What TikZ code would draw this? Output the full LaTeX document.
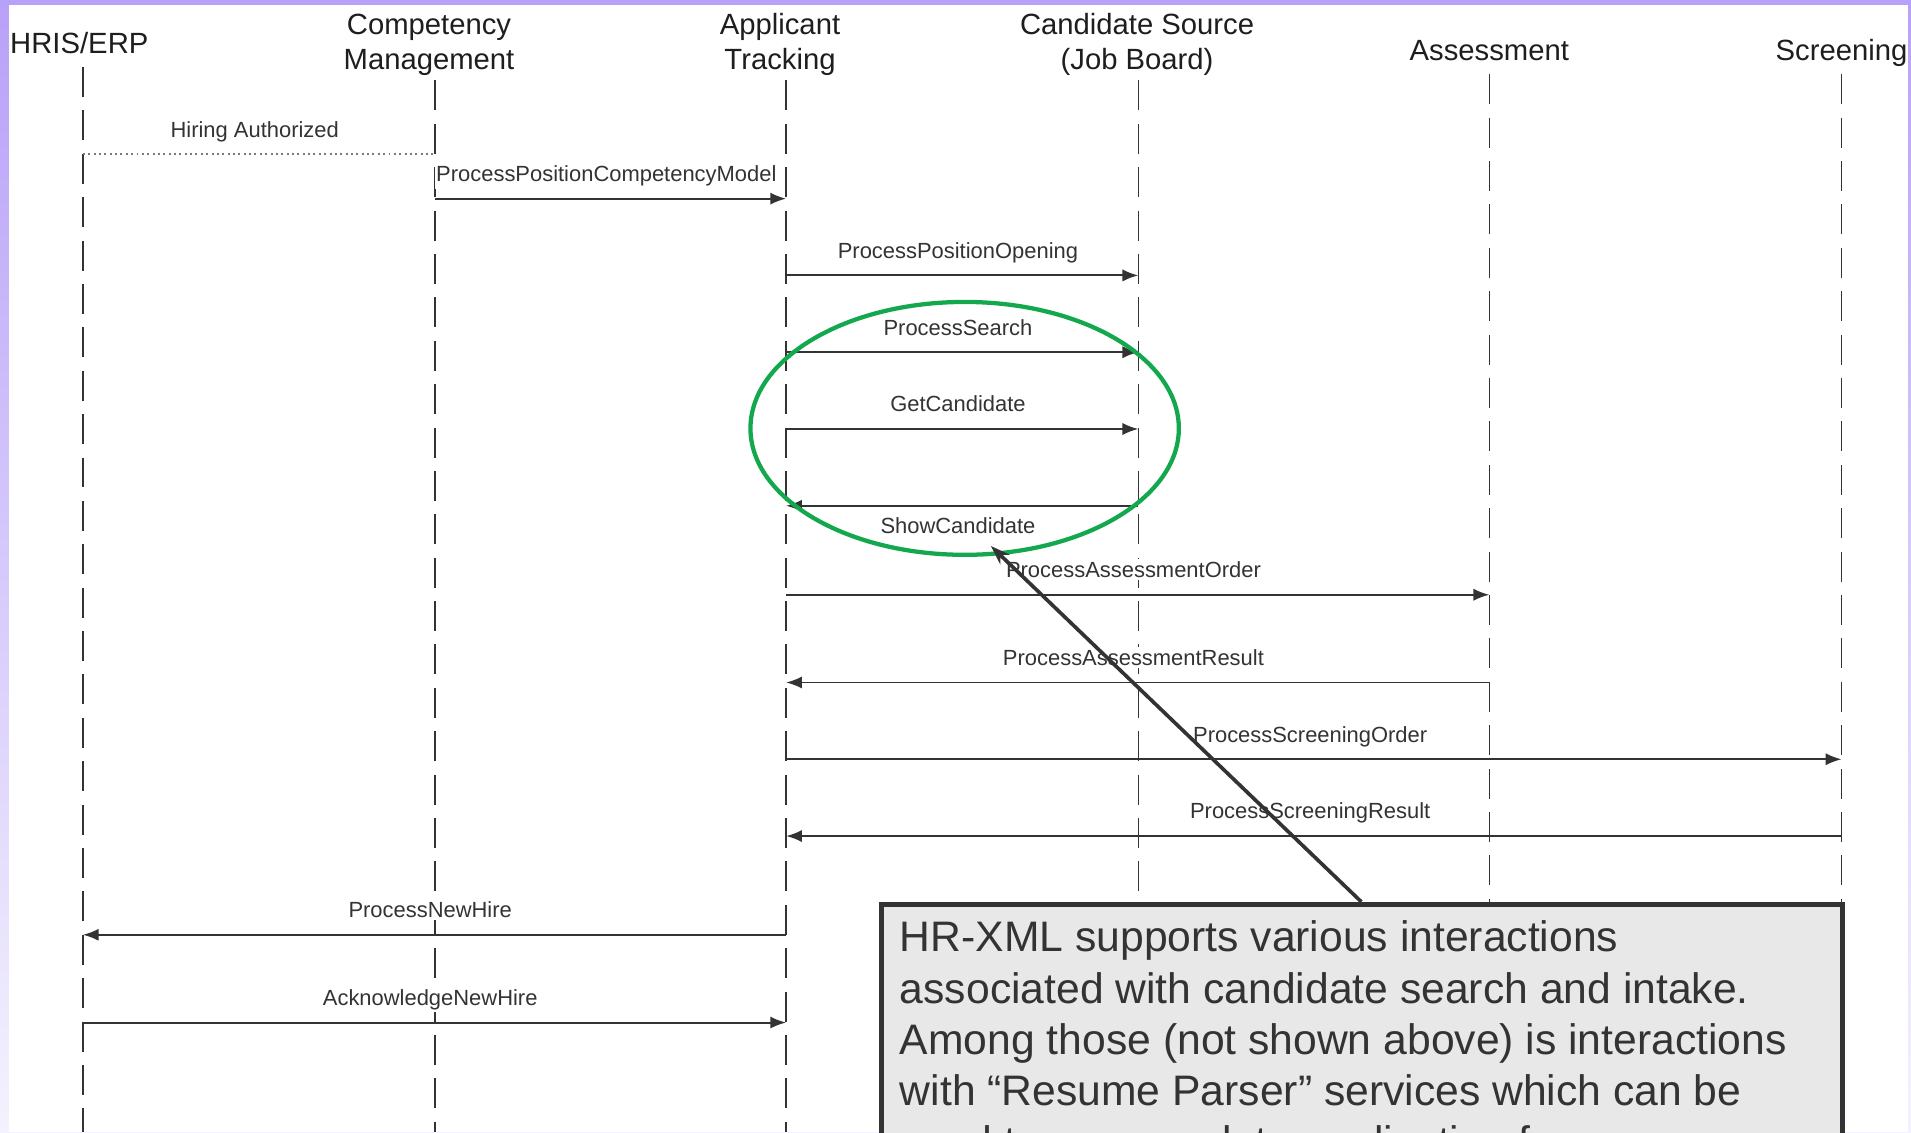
\documentclass[tikz,border=0pt]{standalone}
\usepackage{fontspec}
\setmainfont{Liberation Sans}
\usetikzlibrary{arrows.meta,shapes.geometric}
\definecolor{ink}{HTML}{333333}
\definecolor{headink}{HTML}{1E1E1E}
\definecolor{lav}{HTML}{B8A1F8}
\definecolor{lavlight}{HTML}{F4F2FE}
\definecolor{oval}{HTML}{14A84E}
\definecolor{boxfill}{HTML}{E8E8E8}
\begin{document}
\begin{tikzpicture}[x=0.5pt,y=-0.5pt,
  lifeline/.style={ink, line width=0.65pt, dash pattern=on 12.3pt off 5.5pt},
  head/.style={font=\fontsize{12pt}{14.35pt}\selectfont, text=headink, inner sep=0pt, align=center, anchor=base},
  msglabel/.style={font=\fontsize{9pt}{10pt}\selectfont, text=ink, fill=white, inner xsep=0.5pt, inner ysep=1pt, anchor=base},
  msg/.style={ink, line width=0.8pt, -{Latex[length=6.5pt,width=5pt]}},
  hint/.style={ink!65, line width=0.8pt, dash pattern=on 0.8pt off 1.4pt},
  pointer/.style={ink, line width=1.5pt, -{Stealth[length=8pt,width=5.5pt]}},
  notebox/.style={fill=boxfill, draw=ink, line width=2pt, anchor=north west, inner sep=0pt, minimum width=394.5pt, minimum height=150pt},
  notetext/.style={font=\fontsize{17.5pt}{21pt}\selectfont, text=ink, align=left, anchor=base west, inner sep=0pt},
]
\useasboundingbox (0,0) rectangle (1568,929);
\shade[top color=lav, bottom color=lavlight] (0,0) rectangle (1568,929);
\fill[white] (7,4) rectangle (1565.5,929);

% headers
\node[head, anchor=base west] (h1) at (8,44) {HRIS/ERP};
\node[head] (h2) at (352,57.4) {Competency\\Management};
\node[head] (h3) at (640,57.4) {Applicant\\Tracking};
\node[head] (h4) at (933,57.4) {Candidate Source\\(Job Board)};
\node[head] (h5) at (1222,50) {Assessment};
\node[head] (h6) at (1511,50) {Screening};

% lifelines
\coordinate (t1) at (68,55);   \coordinate (b1) at (68,929);
\coordinate (t2) at (357,66);  \coordinate (b2) at (357,929);
\coordinate (t3) at (645,66);  \coordinate (b3) at (645,929);
\coordinate (t4) at (934,66);  \coordinate (b4) at (934,929);
\coordinate (t5) at (1222,61); \coordinate (b5) at (1222,929);
\coordinate (t6) at (1511,61); \coordinate (b6) at (1511,929);
\foreach \i in {1,...,6} \draw[lifeline] (t\i) -- (b\i);

% message end points
\coordinate (m0a) at (68,126);   \coordinate (m0b) at (357,126);
\coordinate (m1a) at (357,163);  \coordinate (m1b) at (645,163);
\coordinate (m2a) at (645,226);  \coordinate (m2b) at (934,226);
\coordinate (m3a) at (645,289);  \coordinate (m3b) at (934,289);
\coordinate (m4a) at (645,352);  \coordinate (m4b) at (934,352);
\coordinate (m5a) at (934,415);  \coordinate (m5b) at (645,415);
\coordinate (m6a) at (645,488);  \coordinate (m6b) at (1222,488);
\coordinate (m7a) at (1222,560); \coordinate (m7b) at (645,560);
\coordinate (m8a) at (645,623);  \coordinate (m8b) at (1511,623);
\coordinate (m9a) at (1511,686); \coordinate (m9b) at (645,686);
\coordinate (m10a) at (645,767); \coordinate (m10b) at (68,767);
\coordinate (m11a) at (68,839);  \coordinate (m11b) at (645,839);

% labels
\node[msglabel] (l0) at (209,113) {Hiring Authorized};
\node[msglabel] (l1) at (497.5,149) {ProcessPositionCompetencyModel};
\node[msglabel] (l2) at (786,212) {ProcessPositionOpening};
\node[msglabel] (l3) at (786,275) {ProcessSearch};
\node[msglabel] (l4) at (786,338) {GetCandidate};
\node[msglabel] (l5) at (786,438) {ShowCandidate};
\node[msglabel] (l6) at (930,474) {ProcessAssessmentOrder};
\node[msglabel] (l7) at (930,546) {ProcessAssessmentResult};
\node[msglabel] (l8) at (1075,609) {ProcessScreeningOrder};
\node[msglabel] (l9) at (1075,672) {ProcessScreeningResult};
\node[msglabel] (l10) at (353,753) {ProcessNewHire};
\node[msglabel] (l11) at (353,825) {AcknowledgeNewHire};

% messages
\draw[hint] (m0a) -- (m0b);
\foreach \i in {1,...,11} \draw[msg] (m\i a) -- (m\i b);

% highlight oval
\node[draw=oval, ellipse, line width=1.75pt, minimum width=175.75pt, minimum height=103.75pt, inner sep=0pt] (oval) at (791.5,351.5) {};

% callout
\coordinate (tip) at (813,448);
\coordinate (ptr) at (1117,740);
\draw[pointer] (ptr) -- (tip);
\begin{scope}
\clip (0,0) rectangle (1568,929);
\node[notebox] (note) at (721,740) {};
\draw[ink, line width=1.2pt] (721,741.5) -- (1510,741.5);
\node[notetext] (notetxt) at (738,949) {HR-XML supports various interactions\\associated with candidate search and intake.\\Among those (not shown above) is interactions\\with \textquotedblleft Resume Parser\textquotedblright\ services which can be\\used to pre-populate application forms.};
\end{scope}
\end{tikzpicture}
\end{document}
